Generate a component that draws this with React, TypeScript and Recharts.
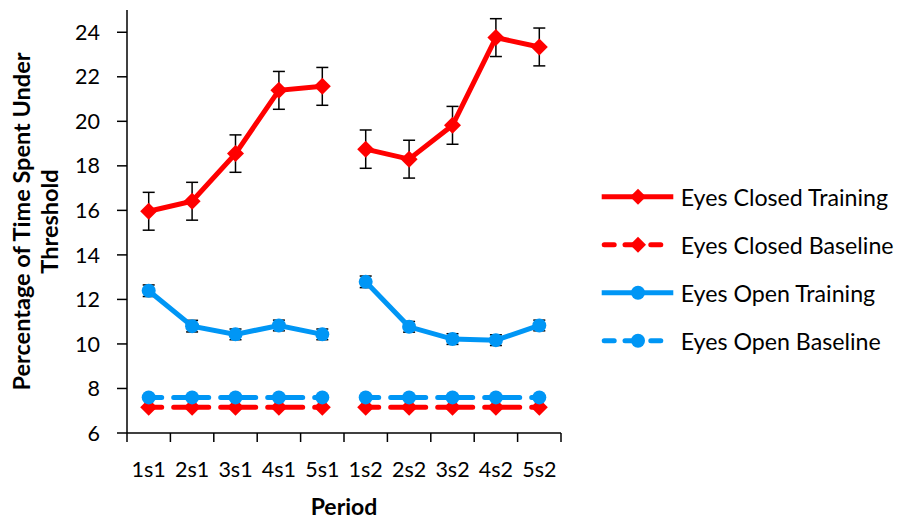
import React from 'react';
import { LineChart, Line, XAxis, YAxis, ErrorBar, Label } from 'recharts';

const periods = ['1s1', '2s1', '3s1', '4s1', '5s1', '1s2', '2s2', '3s2', '4s2', '5s2'];
const eyesClosedTraining = [15.96, 16.41, 18.55, 21.39, 21.57, 18.75, 18.3, 19.82, 23.76, 23.34];
const eyesClosedTrainingErr = [0.85, 0.85, 0.84, 0.85, 0.85, 0.86, 0.85, 0.85, 0.85, 0.85];
const eyesClosedBaseline = [7.16, 7.16, 7.16, 7.16, 7.16, 7.16, 7.16, 7.16, 7.16, 7.16];
const eyesOpenTraining = [12.39, 10.8, 10.43, 10.83, 10.43, 12.79, 10.77, 10.22, 10.17, 10.83];
const eyesOpenTrainingErr = [0.26, 0.26, 0.24, 0.24, 0.24, 0.26, 0.24, 0.24, 0.24, 0.24];
const eyesOpenBaseline = [7.6, 7.6, 7.6, 7.6, 7.6, 7.6, 7.6, 7.6, 7.6, 7.6];
const yTicks = [6, 8, 10, 12, 14, 16, 18, 20, 22, 24];

const RED = '#FF0000';
const BLUE = '#0096F5';
const FONT = 'Lato, "Open Sans", sans-serif';

// Build table; a null row between sessions breaks the lines
const data: any[] = [];
periods.forEach((p, i) => {
  if (i > 0 && p.slice(-1) !== periods[i - 1].slice(-1)) {
    data.push({ x: i, ect: null, ecb: null, eot: null, eob: null });
  }
  data.push({
    x: i + 0.5,
    ect: eyesClosedTraining[i],
    ectErr: eyesClosedTrainingErr[i],
    ecb: eyesClosedBaseline[i],
    eot: eyesOpenTraining[i],
    eotErr: eyesOpenTrainingErr[i],
    eob: eyesOpenBaseline[i],
  });
});

const xTicks: number[] = [];
for (let i = 0; i <= periods.length * 2; i++) xTicks.push(i / 2);

const XTick = (props: any) => {
  const { x, y, payload } = props;
  const v = payload.value;
  if (Number.isInteger(v)) {
    return <line x1={x} x2={x} y1={y} y2={y + 9} stroke="#000" strokeWidth={1.5} />;
  }
  return (
    <text x={x} y={y + 36} textAnchor="middle" dominantBaseline="central" fontFamily={FONT} fontSize={21.5} fill="#000">
      {periods[Math.floor(v)]}
    </text>
  );
};

const diamond = (color: string, r: number) => (props: any) => {
  const { cx, cy, index } = props;
  if (cx == null || cy == null) return <g key={`d${index}`} />;
  return (
    <polygon
      key={`d${index}`}
      points={`${cx},${cy - r} ${cx + r},${cy} ${cx},${cy + r} ${cx - r},${cy}`}
      fill={color}
    />
  );
};

const circle = (color: string, r: number) => (props: any) => {
  const { cx, cy, index } = props;
  if (cx == null || cy == null) return <g key={`c${index}`} />;
  return <circle key={`c${index}`} cx={cx} cy={cy} r={r} fill={color} />;
};

const YTitle = (props: any) => {
  const cy = 221.5;
  return (
    <g fontFamily={FONT} fontWeight={700} fontSize={23.5} fill="#000">
      <text transform={`translate(30, ${cy}) rotate(-90)`} textAnchor="middle">
        Percentage of Time Spent Under
      </text>
      <text transform={`translate(58, ${cy}) rotate(-90)`} textAnchor="middle">
        Threshold
      </text>
    </g>
  );
};

const legendItems = [
  { name: 'Eyes Closed Training', color: RED, dashed: false, shape: 'diamond' },
  { name: 'Eyes Closed Baseline', color: RED, dashed: true, shape: 'diamond' },
  { name: 'Eyes Open Training', color: BLUE, dashed: false, shape: 'circle' },
  { name: 'Eyes Open Baseline', color: BLUE, dashed: true, shape: 'circle' },
];

const LegendBox = () => (
  <svg width={309} height={200} style={{ position: 'absolute', left: 595, top: 170 }}>
    {legendItems.map((it, i) => {
      const y = 26.7 + i * 48;
      return (
        <g key={it.name}>
          {it.dashed ? (
            <g stroke={it.color} strokeWidth={5} strokeLinecap="round">
              <line x1={9.2} x2={19.2} y1={y} y2={y} />
              <line x1={30} x2={42} y1={y} y2={y} />
              <line x1={55.8} x2={65.8} y1={y} y2={y} />
            </g>
          ) : (
            <line x1={6.7} x2={78.3} y1={y} y2={y} stroke={it.color} strokeWidth={5} />
          )}
          {it.shape === 'diamond' ? (
            <polygon points={`43,${y - 8} 51,${y} 43,${y + 8} 35,${y}`} fill={it.color} />
          ) : (
            <circle cx={43} cy={y} r={7} fill={it.color} />
          )}
          <text x={85.7} y={y} dominantBaseline="central" fontFamily={FONT} fontSize={23.2} fill="#000">
            {it.name}
          </text>
        </g>
      );
    })}
  </svg>
);

export default function App() {
  return (
    <div style={{ position: 'absolute', left: 0, top: 0, width: 904, height: 520, background: '#fff' }}>
      <LineChart width={904} height={520} data={data} margin={{ top: 10, right: 343, bottom: 0, left: 47 }}>
        <XAxis
          dataKey="x"
          type="number"
          domain={[0, 10]}
          ticks={xTicks}
          interval={0}
          tick={<XTick />}
          tickLine={false}
          tickSize={0}
          tickMargin={0}
          height={87}
          axisLine={{ stroke: '#000', strokeWidth: 1.5 }}
        >
          <Label
            value="Period"
            position="insideBottom"
            offset={0}
            content={(p: any) => (
              <text x={344} y={506} textAnchor="middle" dominantBaseline="central" fontFamily={FONT} fontWeight={700} fontSize={23} fill="#000">
                Period
              </text>
            )}
          />
        </XAxis>
        <YAxis
          type="number"
          domain={[6, 25]}
          ticks={yTicks}
          interval={0}
          width={80}
          tickSize={10}
          tickMargin={17}
          tick={{ fontFamily: FONT, fontSize: 21.5, fill: '#000' }}
          tickLine={{ stroke: '#000', strokeWidth: 1.5 }}
          axisLine={{ stroke: '#000', strokeWidth: 1.5 }}
        >
          <Label content={<YTitle />} />
        </YAxis>
        <Line
          dataKey="ect"
          stroke={RED}
          strokeWidth={5}
          dot={diamond(RED, 8.5)}
          activeDot={false}
          isAnimationActive={false}
        >
          <ErrorBar dataKey="ectErr" width={6} stroke="#000" strokeWidth={1.5} direction="y" />
        </Line>
        <Line
          dataKey="ecb"
          stroke={RED}
          strokeWidth={5}
          strokeDasharray="35 12"
          strokeDashoffset={22}
          strokeLinecap="round"
          dot={diamond(RED, 8.5)}
          activeDot={false}
          isAnimationActive={false}
        />
        <Line
          dataKey="eot"
          stroke={BLUE}
          strokeWidth={5}
          dot={circle(BLUE, 7)}
          activeDot={false}
          isAnimationActive={false}
        >
          <ErrorBar dataKey="eotErr" width={6} stroke="#000" strokeWidth={1.5} direction="y" />
        </Line>
        <Line
          dataKey="eob"
          stroke={BLUE}
          strokeWidth={5}
          strokeDasharray="35 12"
          strokeDashoffset={22}
          strokeLinecap="round"
          dot={circle(BLUE, 7)}
          activeDot={false}
          isAnimationActive={false}
        />
      </LineChart>
      <LegendBox />
    </div>
  );
}
